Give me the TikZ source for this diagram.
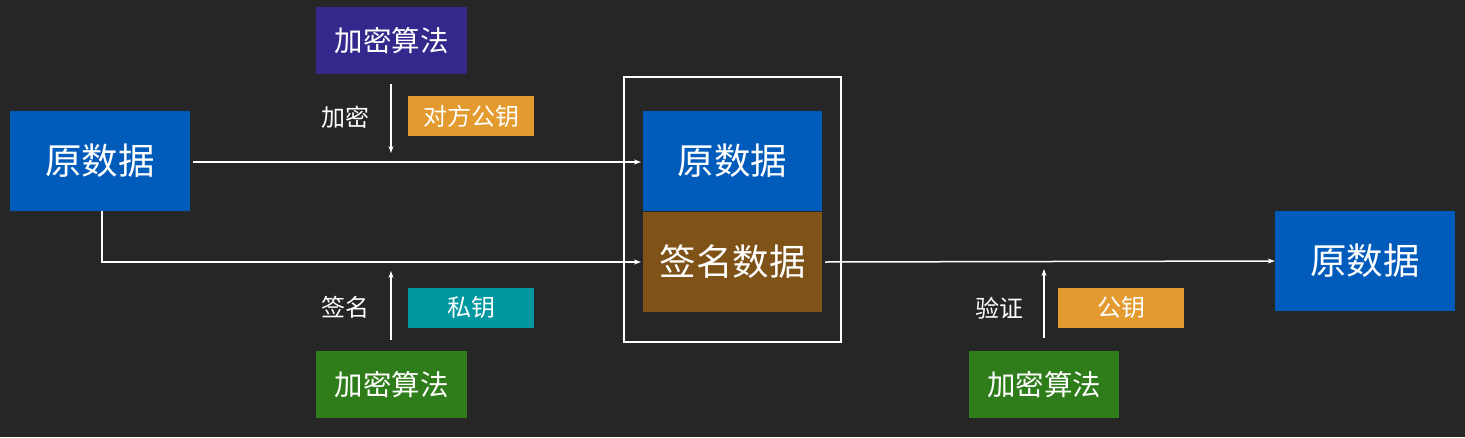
\documentclass[tikz,border=0pt]{standalone}
\usepackage{fontspec}
\newfontfamily\cjk{Noto Sans CJK SC}
\usetikzlibrary{arrows.meta}
\definecolor{bg}{HTML}{262626}
\definecolor{cblue}{HTML}{005BBB}
\definecolor{cpurple}{HTML}{35288C}
\definecolor{corange}{HTML}{E39A2F}
\definecolor{cteal}{HTML}{0097A0}
\definecolor{cgreen}{HTML}{2E7D1A}
\definecolor{cbrown}{HTML}{7F5217}
\tikzset{
  box/.style={draw=none, inner sep=0pt, text=white, font=\cjk},
  bigbox/.style={box, minimum width=180pt, minimum height=100pt, font=\cjk\fontsize{36.5}{40}\selectfont},
  algbox/.style={box, minimum width=151pt, minimum height=67pt, font=\cjk\fontsize{28.5}{32}\selectfont},
  keybox/.style={box, minimum width=126pt, minimum height=40pt, font=\cjk\fontsize{24}{28}\selectfont},
  lbl/.style={text=white, inner sep=0pt, font=\cjk\fontsize{24}{28}\selectfont},
  conn/.style={draw=white, line width=1.5pt, -{Stealth[length=7pt,width=5pt]}},
}
\begin{document}
\begin{tikzpicture}[x=1pt,y=-1pt]
\useasboundingbox (0,0) rectangle (1465,437);
\fill[bg] (0,0) rectangle (1465,437);
% left source
\node[bigbox, fill=cblue] (src) at (100,161) {原数据};
% top algorithm
\node[algbox, fill=cpurple] (algA) at (391.5,40.5) {加密算法};
\node[keybox, fill=corange] (keyA) at (471,116) {对方公钥};
\node[lbl, anchor=east] (lblA) at (370,117) {加密};
\coordinate (aS) at (391,84);
\coordinate (aE) at (391,153);
\draw[conn] (aS) -- (aE);
% center
\node[bigbox, fill=cblue, minimum width=179pt] (dat) at (732.5,161) {原数据};
\node[bigbox, fill=cbrown, minimum width=179pt] (sig) at (732.5,262) {签名数据};
\draw[white, line width=2pt] (624,77) rectangle (841,342);
% bottom algorithm
\node[keybox, fill=cteal] (keyB) at (471,307.5) {私钥};
\node[algbox, fill=cgreen] (algB) at (391.5,384.5) {加密算法};
\node[lbl, anchor=east] (lblB) at (370,307) {签名};
\coordinate (bS) at (391,340);
\coordinate (bE) at (391,271);
\draw[conn] (bS) -- (bE);
% right
\node[bigbox, fill=cblue] (dst) at (1365,261) {原数据};
\node[keybox, fill=corange] (keyC) at (1121,307.5) {公钥};
\node[algbox, fill=cgreen, minimum width=150pt] (algC) at (1044,384.5) {加密算法};
\node[lbl, anchor=east] (lblC) at (1024,308) {验证};
\coordinate (cS) at (1044,338);
\coordinate (cE) at (1044,269);
\draw[conn] (cS) -- (cE);
% main connectors
\coordinate (t1) at (193,162);
\coordinate (t2) at (641,162);
\draw[conn] (t1) -- (t2);
\coordinate (b1) at (102,211);
\coordinate (b2) at (641,262);
\draw[conn] (b1) |- (b2);
\coordinate (r1) at (825,262);
\draw[conn] (r1) -- (dst.west);
\end{tikzpicture}
\end{document}
